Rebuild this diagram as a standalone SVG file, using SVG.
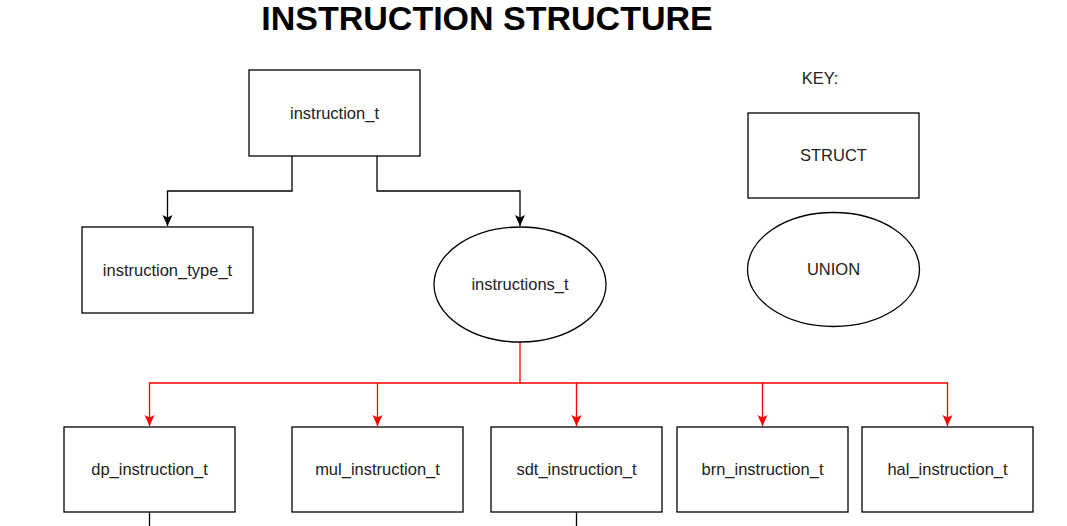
<svg xmlns="http://www.w3.org/2000/svg" width="1067" height="526" viewBox="0 0 1067 526">
<style>
.box{fill:#fff;stroke:#000;stroke-width:1.3}
.lbl{font-family:"Liberation Sans",Arial,sans-serif;font-size:16.5px;fill:#222;text-anchor:middle}
.title{font-family:"Liberation Sans",Arial,sans-serif;font-size:34px;font-weight:bold;fill:#000;text-anchor:middle}
.blk{fill:none;stroke:#000;stroke-width:1.3}
.red{fill:none;stroke:#ff0000;stroke-width:1.3}
</style>
<defs>
<marker id="ab" markerUnits="userSpaceOnUse" markerWidth="12" markerHeight="12" viewBox="0 -6 12 12" refX="11" refY="0" orient="auto">
<path d="M0,-5 L11,0 L0,5 L2.5,0 Z" fill="#000"/>
</marker>
<marker id="ar" markerUnits="userSpaceOnUse" markerWidth="12" markerHeight="12" viewBox="0 -6 12 12" refX="11" refY="0" orient="auto">
<path d="M0,-5 L11,0 L0,5 L2.5,0 Z" fill="#ff0000"/>
</marker>
</defs>
<rect width="1067" height="526" fill="#fff"/>
<text class="title" x="487" y="30">INSTRUCTION STRUCTURE</text>
<g id="connectors">
<path class="blk" d="M292,156 V191 H167.5 V226" marker-end="url(#ab)"/>
<path class="blk" d="M377,156 V191 H520 V226" marker-end="url(#ab)"/>
<path class="red" d="M520,342 V383 H149.5 V426" marker-end="url(#ar)"/>
<path class="red" d="M377.5,383 V426" marker-end="url(#ar)"/>
<path class="red" d="M520,383 H576.5 V426" marker-end="url(#ar)"/>
<path class="red" d="M576.5,383 H762.5 V426" marker-end="url(#ar)"/>
<path class="red" d="M762.5,383 H947.5 V426" marker-end="url(#ar)"/>
<path class="blk" d="M149.5,512 V526"/>
<path class="blk" d="M576.5,512 V526"/>
</g>
<g id="instruction_t"><rect class="box" x="249" y="70" width="171" height="86"/><text class="lbl" x="334.5" y="119">instruction_t</text></g>
<g id="instruction_type_t"><rect class="box" x="82" y="227" width="171" height="86"/><text class="lbl" x="167.5" y="276">instruction_type_t</text></g>
<g id="instructions_t"><ellipse class="box" cx="520" cy="284.5" rx="86" ry="57.5"/><text class="lbl" x="520" y="290">instructions_t</text></g>
<g id="key"><text class="lbl" x="820" y="84">KEY:</text></g>
<g id="struct"><rect class="box" x="748" y="113" width="171" height="85"/><text class="lbl" x="833.5" y="161">STRUCT</text></g>
<g id="union"><ellipse class="box" cx="833.5" cy="269.5" rx="86" ry="57"/><text class="lbl" x="833.5" y="275">UNION</text></g>
<g id="dp_instruction_t"><rect class="box" x="64" y="427" width="171" height="85"/><text class="lbl" x="149.5" y="475">dp_instruction_t</text></g>
<g id="mul_instruction_t"><rect class="box" x="292" y="427" width="171" height="85"/><text class="lbl" x="377.5" y="475">mul_instruction_t</text></g>
<g id="sdt_instruction_t"><rect class="box" x="491" y="427" width="171" height="85"/><text class="lbl" x="576.5" y="475">sdt_instruction_t</text></g>
<g id="brn_instruction_t"><rect class="box" x="677" y="427" width="171" height="85"/><text class="lbl" x="762.5" y="475">brn_instruction_t</text></g>
<g id="hal_instruction_t"><rect class="box" x="862" y="427" width="171" height="85"/><text class="lbl" x="947.5" y="475">hal_instruction_t</text></g>
</svg>
